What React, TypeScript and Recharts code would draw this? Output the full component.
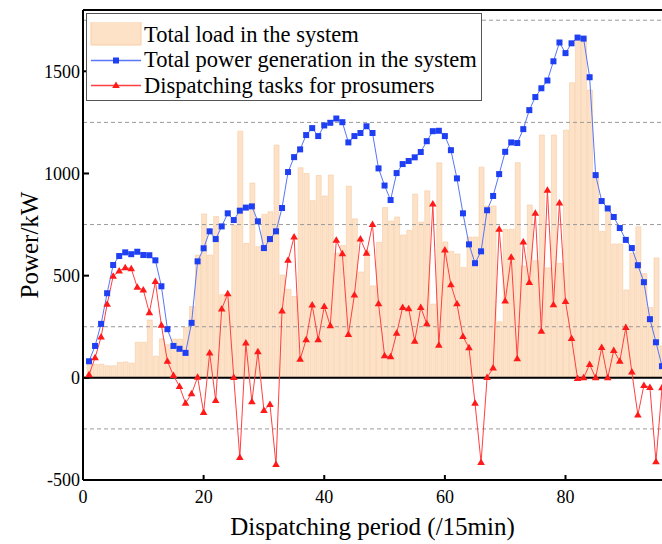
import React from "react";
import {
  ComposedChart,
  Bar,
  Line,
  XAxis,
  YAxis,
  ReferenceLine,
  Legend,
} from "recharts";

// dispatching periods (15 min each), 1..96
const periods = Array.from({ length: 96 }, (_, i) => i + 1);

// kW
const totalLoad = [
  65, 67, 67, 59, 59, 75, 78, 72, 174, 174, 283, 106, 191, 162, 190, 190,
  247, 349, 601, 802, 601, 789, 407, 407, 748, 1207, 658, 953, 642, 800, 813, 1139,
  503, 433, 398, 1028, 1000, 867, 990, 890, 992, 610, 648, 938, 778, 518, 620, 450,
  663, 833, 767, 787, 699, 722, 899, 762, 915, 361, 1052, 665, 619, 606, 540, 689,
  689, 1031, 841, 841, 274, 727, 727, 1053, 547, 846, 573, 1188, 538, 1188, 560, 1212,
  1444, 1672, 1665, 1408, 990, 717, 827, 655, 655, 430, 611, 739, 510, 344, 587, 156,
];

const totalGeneration = [
  81, 156, 264, 414, 552, 596, 614, 605, 617, 601, 600, 575, 448, 238, 156, 142,
  122, 269, 570, 634, 717, 679, 741, 805, 772, 818, 833, 839, 766, 635, 679, 717,
  831, 1007, 1080, 1118, 1188, 1222, 1183, 1235, 1248, 1269, 1251, 1152, 1183, 1198, 1231, 1198,
  1025, 941, 870, 1002, 1046, 1061, 1079, 1105, 1158, 1207, 1209, 1183, 1114, 976, 805, 653,
  561, 619, 820, 890, 997, 1106, 1152, 1149, 1217, 1310, 1374, 1417, 1455, 1549, 1641, 1589,
  1637, 1665, 1660, 1471, 992, 865, 829, 787, 733, 675, 635, 551, 468, 287, 174, 57,
];

const dispatchTasks = [
  15, 98, 200, 360, 497, 523, 539, 534, 443, 430, 319, 471, 257, 81, 11, -42,
  -124, -78, 3, -170, 121, -111, 337, 411, 2, -390, 170, -117, 127, -160, -130, -424,
  327, 575, 689, 91, 186, 356, 186, 349, 255, 673, 607, 212, 405, 679, 610, 750,
  363, 108, 103, 218, 344, 338, 179, 344, 265, 851, 160, 626, 455, 362, 202, 147,
  -125, -414, 2, 48, 727, 376, 590, 93, 665, 466, 805, 228, 918, 358, 855, 373,
  193, -3, 0, 65, 0, 148, 0, 134, 81, 246, 28, -182, -37, -47, -411, -49,
];

const xTicks = [0, 20, 40, 60, 80];
const yTicks = [-500, 0, 500, 1000, 1500];
const gridValues = [-250, 250, 750, 1250, 1750];

const data = periods.map((p, i) => ({
  period: p,
  load: totalLoad[i],
  gen: totalGeneration[i],
  task: dispatchTasks[i],
}));

const FONT = "Liberation Serif";
const BLUE = "#1f3ff2";
const BLUE_LINE = "#5876f7";
const RED = "#ff1a1a";
const RED_LINE = "#ff4040";
const LOAD_FILL = "#f9b676"; // drawn at 40% so the grid shows through

const SquareDot = (props: any) => {
  const { cx, cy, index } = props;
  if (cx == null || cy == null) return <g key={"s" + index} />;
  return <rect key={"s" + index} x={cx - 3} y={cy - 3} width={6} height={6} fill={BLUE} />;
};

const TriangleDot = (props: any) => {
  const { cx, cy, index } = props;
  if (cx == null || cy == null) return <g key={"t" + index} />;
  return (
    <path
      key={"t" + index}
      d={`M${cx},${cy - 4} L${cx + 3.8},${cy + 2.5} L${cx - 3.8},${cy + 2.5} Z`}
      fill={RED}
    />
  );
};

function LegendBox() {
  const row: React.CSSProperties = {
    display: "flex",
    alignItems: "center",
    height: 25.5,
  };
  return (
    <div
      style={{
        border: "1px solid #555",
        background: "#fff",
        boxSizing: "border-box",
        width: 396,
        height: 88,
        padding: "8px 0 0 3px",
        fontFamily: FONT,
        fontSize: 22.5,
        color: "#000",
        lineHeight: 1,
        whiteSpace: "nowrap",
      }}
    >
      <div style={row}>
        <svg width={54} height={25}>
          <rect x={1} y={-1} width={50} height={24} fill="#fde2c8" stroke="#f7cda4" />
        </svg>
        <span>Total load in the system</span>
      </div>
      <div style={row}>
        <svg width={54} height={25}>
          <line x1={1} x2={51} y1={12.5} y2={12.5} stroke={BLUE_LINE} strokeWidth={1.5} />
          <rect x={23} y={9.5} width={6} height={6} fill={BLUE} />
        </svg>
        <span>Total power generation in the system</span>
      </div>
      <div style={row}>
        <svg width={54} height={25}>
          <line x1={1} x2={51} y1={12.5} y2={12.5} stroke={RED_LINE} strokeWidth={1.5} />
          <path d="M26,8.5 L29.8,15 L22.2,15 Z" fill={RED} />
        </svg>
        <span>Dispatching tasks for prosumers</span>
      </div>
    </div>
  );
}

const YTitle = (props: any) => {
  const vb = props.viewBox || { x: 0, y: 10, width: 83, height: 470 };
  const x = vb.x + 29;
  const y = vb.y + vb.height / 2;
  return (
    <text
      x={x}
      y={y}
      transform={`rotate(-90 ${x} ${y})`}
      textAnchor="middle"
      dominantBaseline="central"
      fontSize={25}
      fontFamily={FONT}
      fill="#000"
    >
      Power/kW
    </text>
  );
};

export default function App() {
  return (
    <div
      style={{
        position: "absolute",
        left: 0,
        top: 0,
        width: 662,
        height: 544,
        overflow: "hidden",
        background: "#fff",
        fontFamily: FONT,
      }}
    >
      <ComposedChart
        width={664}
        height={544}
        data={data}
        margin={{ top: 9, right: 1, bottom: 0, left: 0 }}
      >
        {gridValues.map((v) => (
          <ReferenceLine
            key={v}
            y={v}
            stroke="#9a9a9a"
            strokeDasharray="4 3"
            strokeWidth={1}
          />
        ))}
        <XAxis
          dataKey="period"
          type="number"
          domain={[0, 96]}
          ticks={xTicks}
          height={64}
          axisLine={{ stroke: "#000", strokeWidth: 2 }}
          tickLine={{ stroke: "#000", strokeWidth: 2 }}
          tickSize={-5}
          tickMargin={15}
          tick={{ fill: "#000", fontSize: 18, fontFamily: FONT }}
          label={{
            value: "Dispatching period (/15min)",
            position: "insideBottom",
            offset: 9,
            style: { fill: "#000", fontSize: 25, fontFamily: FONT },
          }}
        />
        <XAxis
          xAxisId="top"
          orientation="top"
          dataKey="period"
          type="number"
          domain={[0, 96]}
          ticks={xTicks}
          height={1}
          axisLine={{ stroke: "#000", strokeWidth: 2 }}
          tickLine={{ stroke: "#000", strokeWidth: 2 }}
          tickSize={-5}
          tick={false}
        />
        <YAxis
          type="number"
          domain={[-500, 1800]}
          ticks={yTicks}
          width={83}
          axisLine={{ stroke: "#000", strokeWidth: 2 }}
          tickLine={{ stroke: "#000", strokeWidth: 2 }}
          tickSize={-6}
          tickMargin={9}
          tick={{ fill: "#000", fontSize: 18, fontFamily: FONT }}
          label={<YTitle />}
        />
        <YAxis
          yAxisId="right"
          orientation="right"
          type="number"
          domain={[-500, 1800]}
          ticks={yTicks}
          width={1}
          axisLine={false}
          tickLine={{ stroke: "#000", strokeWidth: 2 }}
          tickSize={-5}
          tick={false}
        />
        <Bar
          dataKey="load"
          name="Total load in the system"
          fill={LOAD_FILL}
          fillOpacity={0.4}
          stroke="#f5c496"
          strokeWidth={0.5}
          barSize={5}
          isAnimationActive={false}
        />
        <ReferenceLine y={0} stroke="#000" strokeWidth={2} />
        <Line
          dataKey="gen"
          name="Total power generation in the system"
          stroke={BLUE_LINE}
          strokeWidth={1}
          dot={SquareDot}
          activeDot={false}
          isAnimationActive={false}
        />
        <Line
          dataKey="task"
          name="Dispatching tasks for prosumers"
          stroke={RED_LINE}
          strokeWidth={1}
          dot={TriangleDot}
          activeDot={false}
          isAnimationActive={false}
        />
        <Legend
          layout="horizontal"
          verticalAlign="middle"
          align="center"
          content={() => <LegendBox />}
          wrapperStyle={{ left: 86, top: 13, width: 396, height: 88 }}
        />
      </ComposedChart>
    </div>
  );
}
